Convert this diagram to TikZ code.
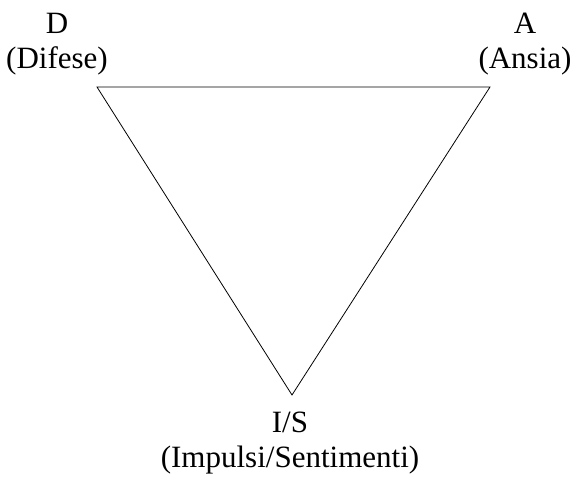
\documentclass[tikz,border=0pt]{standalone}
\usepackage{fontspec}
\setmainfont{Liberation Serif}
\usepackage{tikz}
\usetikzlibrary{positioning,calc}

\begin{document}
\begin{tikzpicture}[
    x=1pt, y=-1pt,
    lbl/.style={anchor=north, inner sep=0pt, align=center,
                font=\fontsize{31}{35}\selectfont},
    side/.style={line width=0.8pt, line join=miter}
]
    \useasboundingbox (0,0) rectangle (574,477);

    % Vertices
    \coordinate (d) at (97,87);
    \coordinate (a) at (490,87);
    \coordinate (is) at (292,395);

    % Labels
    \node[lbl] (dlbl) at (57,13) {D\\(Difese)};
    \node[lbl] (albl) at (525,13) {A\\(Ansia)};
    \node[lbl] (islbl) at (290,412) {I/S\\(Impulsi/Sentimenti)};

    % Triangle
    \draw[side] (d) -- (a) -- (is) -- cycle;
\end{tikzpicture}
\end{document}
